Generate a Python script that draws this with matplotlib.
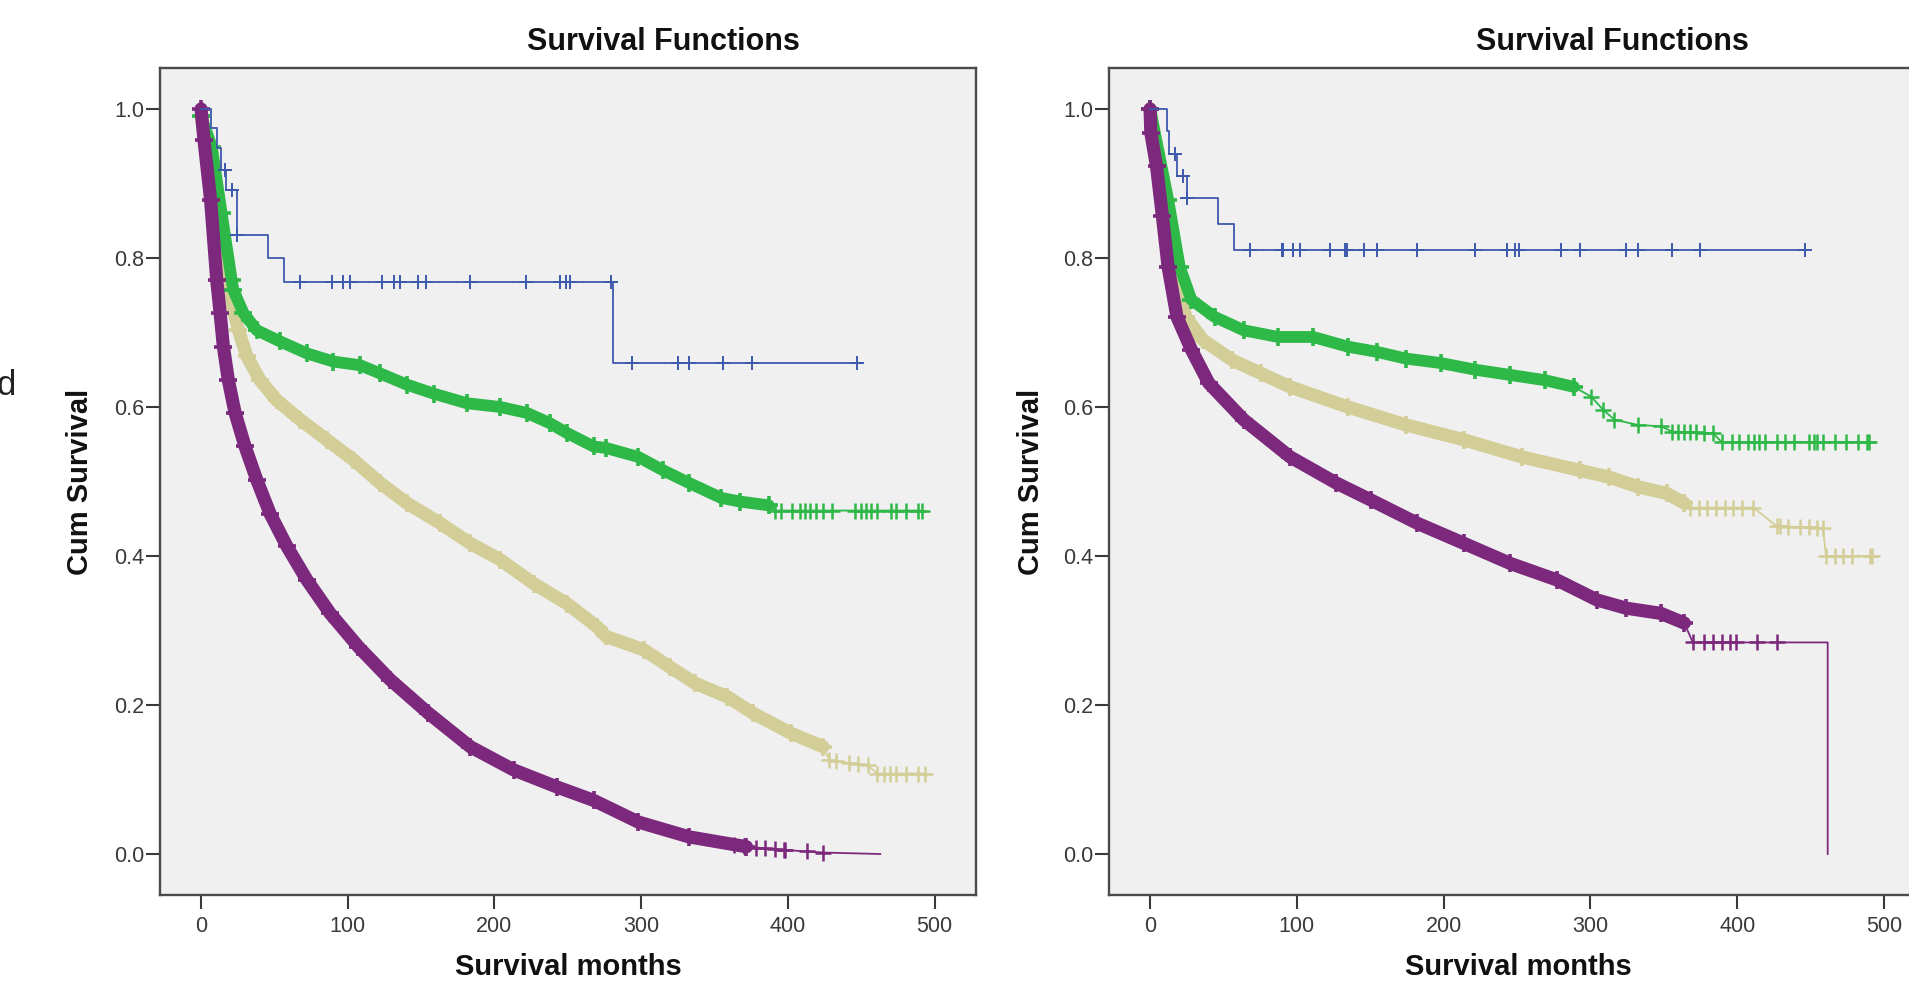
import numpy as np
import matplotlib.pyplot as plt

plt.rcParams['font.family'] = ['Liberation Sans', 'DejaVu Sans']

# SPSS default group colours
BLUE = '#3E58AC'
GREEN = '#2EB848'
KHAKI = '#D3CE97'
PURPLE = '#7C287D'

# ---------------- left panel ----------------
# blue group: Kaplan-Meier steps + censor times
left_blue_t = [0, 7, 10.7, 13.6, 17, 24.8, 45.9, 56.2, 281, 450]
left_blue_s = [1.0, 0.974, 0.947, 0.918, 0.891, 0.831, 0.800, 0.768, 0.659, 0.659]
left_blue_cens = [16.4, 20.9, 24.8, 67.3, 89.1, 96.5, 101.3, 123, 131.3, 135.6, 147.8,
                  153.5, 183.5, 221.8, 244.9, 249, 251.4, 279.7, 293.6, 325, 332.7,
                  355.8, 375.4, 447]

left_green_t = [0, 7.3, 14, 20.9, 22, 28.9, 38, 53.9, 72.1, 90.2, 108.5, 122.1, 140.3,
                158.5, 181.2, 204, 222.2, 238, 249.5, 267.6, 276, 298, 315, 332.7, 354.5,
                367.5, 387, 391.5, 491.5]
left_green_s = [0.99, 0.949, 0.860, 0.770, 0.757, 0.726, 0.703, 0.688, 0.672, 0.661, 0.656,
                0.645, 0.630, 0.618, 0.605, 0.600, 0.592, 0.578, 0.565, 0.547, 0.545, 0.533,
                0.515, 0.498, 0.478, 0.473, 0.468, 0.461, 0.461]
left_green_cens = [395.6, 402.5, 408.6, 412, 415.4, 419.5, 424.3, 430.4, 446, 450.2, 453.6,
                   456.7, 461.1, 470, 474, 480.6, 489]

left_khaki_t = [0, 3.9, 9.5, 15, 19.8, 25.5, 31.2, 40.2, 51.6, 67.5, 85.7, 103.9, 122.1,
                140.3, 163, 183.5, 204, 226.7, 249.5, 270, 276, 302, 319.6, 337, 358.8,
                376.2, 402.3, 424, 428.4, 454.5, 461, 493.7]
left_khaki_s = [0.99, 0.95, 0.86, 0.79, 0.748, 0.703, 0.668, 0.636, 0.609, 0.583, 0.556,
                0.529, 0.498, 0.471, 0.444, 0.417, 0.395, 0.363, 0.336, 0.305, 0.292, 0.274,
                0.251, 0.229, 0.211, 0.189, 0.162, 0.144, 0.126, 0.119, 0.108, 0.108]
left_khaki_cens = [432.8, 441.5, 448, 465.4, 469.8, 474, 480.6, 489]

left_purple_t = [0, 2, 6.5, 10.7, 13, 15.2, 18.6, 23.2, 30, 38, 47, 58.5, 72.1, 88, 107.3,
                 128.9, 155, 183.5, 213, 242.6, 267.6, 298, 332.7, 371.8, 398, 424, 463]
left_purple_s = [1.0, 0.958, 0.878, 0.770, 0.726, 0.681, 0.636, 0.592, 0.547, 0.502, 0.457,
                 0.413, 0.368, 0.323, 0.278, 0.234, 0.189, 0.144, 0.113, 0.090, 0.072,
                 0.043, 0.023, 0.0098, 0.0054, 0.002, 0.0]
left_purple_cens = [363, 370, 378.6, 384.7, 391.5, 397.7, 413.4]

# ---------------- right panel ----------------
right_blue_t = [0, 11.4, 12.9, 18.6, 25.4, 46.5, 57.2, 447]
right_blue_s = [1.0, 0.970, 0.940, 0.910, 0.880, 0.846, 0.811, 0.811]
right_blue_cens = [17, 22.7, 25.4, 68, 89.7, 90.8, 97.6, 102.2, 122.6, 132.8, 134, 146,
                   154.4, 182, 221.7, 243.3, 248.5, 251.2, 280, 292.7, 324.3, 332.2,
                   355.9, 374.7, 445.9]

right_green_t = [0, 12.3, 20.2, 28.1, 43.9, 63.7, 87.2, 111, 134.7, 154.5, 174.3, 198,
                 221.7, 245.4, 269, 288.8, 300.5, 308.8, 316.4, 332.2, 348, 355.9, 383.5,
                 389.4, 490]
right_green_s = [1.0, 0.878, 0.788, 0.744, 0.721, 0.703, 0.694, 0.694, 0.681, 0.674, 0.665,
                 0.659, 0.650, 0.643, 0.636, 0.627, 0.614, 0.596, 0.583, 0.576, 0.574,
                 0.567, 0.565, 0.553, 0.553]
right_green_cens = [359.7, 363.8, 367.8, 371.7, 377.6, 396.2, 401.2, 407.2, 411.2, 415.1,
                    419.1, 427, 432.9, 438.8, 448.7, 452.7, 454.6, 458.6, 466.5, 474.4,
                    482.3, 488.2]

right_khaki_t = [0, 16.3, 24.2, 36, 55.9, 75.6, 95.4, 134.7, 174.3, 213.8, 253.2, 292.7,
                 312.5, 332.2, 352, 364, 368, 411, 427, 458.5, 460.5, 492]
right_khaki_s = [1.0, 0.788, 0.721, 0.690, 0.663, 0.645, 0.627, 0.600, 0.576, 0.556, 0.533,
                 0.515, 0.506, 0.493, 0.484, 0.471, 0.465, 0.465, 0.440, 0.438, 0.400, 0.400]
right_khaki_cens = [373.7, 379.6, 385.5, 391.4, 397.3, 403.3, 429, 434.9, 442.8, 448.7,
                    454.6, 466.5, 472.4, 478.3, 490.2]

right_purple_t = [0, 0.5, 4.4, 8.4, 12.3, 18.3, 28.1, 40, 63.7, 95.4, 126.8, 150.6, 182,
                  213.8, 245.4, 277, 304.5, 324.3, 348, 364, 369.8, 427, 461.7, 461.7]
right_purple_s = [1.0, 0.968, 0.923, 0.856, 0.788, 0.721, 0.677, 0.632, 0.583, 0.533, 0.498,
                  0.475, 0.444, 0.417, 0.390, 0.368, 0.341, 0.330, 0.323, 0.310, 0.284,
                  0.284, 0.284, 0.0]
right_purple_cens = [377.6, 383.5, 389.4, 395.4, 399.3, 413.2]

TICKS_X = [0, 100, 200, 300, 400, 500]
TICKS_Y = [0.0, 0.2, 0.4, 0.6, 0.8, 1.0]

W, H = 1909, 983
fig = plt.figure(figsize=(W / 100, H / 100), dpi=100)


def dense_curve(ax, t, s, cens, color, band_end, band_lw, z, mark_end=True):
    t = np.asarray(t)
    s = np.asarray(s)
    ax.plot(t, s, color=color, lw=1.3, zorder=z)
    inband = t <= band_end
    ax.plot(t[inband], s[inband], color=color, lw=band_lw, solid_capstyle='round',
            solid_joinstyle='round', zorder=z)
    ax.plot(t[inband], s[inband], ls='none', marker='+', ms=13, mew=2.6, color=color, zorder=z)
    tail = ~inband
    if not mark_end:
        tail &= t != t[-1]
    ax.plot(t[tail], s[tail], ls='none', marker='+', ms=11, mew=1.8, color=color, zorder=z)
    cy = np.interp(cens, t, s)
    ax.plot(cens, cy, ls='none', marker='+', ms=11, mew=1.8, color=color, zorder=z)


def blue_curve(ax, t, s, cens, z):
    ax.step(t, s, where='post', color=BLUE, lw=1.3, zorder=z)
    idx = np.searchsorted(t, cens, side='right') - 1
    cy = np.asarray(s)[idx]
    ax.plot(cens, cy, ls='none', marker='+', ms=10, mew=1.4, color=BLUE, zorder=z)


def style_axes(ax):
    ax.set_facecolor('#F0F0F0')
    ax.set_xlim(-28, 528)
    ax.set_ylim(-0.055, 1.055)
    ax.set_xticks(TICKS_X)
    ax.set_yticks(TICKS_Y)
    ax.set_yticklabels([f'{v:.1f}' for v in TICKS_Y])
    for sp in ax.spines.values():
        sp.set_color('#4a4a4a')
        sp.set_linewidth(1.7)
    ax.tick_params(axis='x', direction='out', length=10, width=1.5, colors='#3a3a3a',
                   labelsize=15.5, pad=5, top=False)
    ax.tick_params(axis='y', direction='out', length=10, width=1.5, colors='#3a3a3a',
                   labelsize=15.5, pad=1.5, right=False)


# left panel
ax1 = fig.add_axes([160 / W, 1 - 895 / H, 815.6 / W, 827 / H])
style_axes(ax1)
dense_curve(ax1, left_khaki_t, left_khaki_s, left_khaki_cens, KHAKI, 425, 9.5, 2)
dense_curve(ax1, left_green_t, left_green_s, left_green_cens, GREEN, 390, 8.5, 3)
dense_curve(ax1, left_purple_t, left_purple_s, left_purple_cens, PURPLE, 372, 9.5, 4,
            mark_end=False)
blue_curve(ax1, left_blue_t, left_blue_s, left_blue_cens, 5)

# right panel (runs past the right edge of the picture, as in the reference)
ax2 = fig.add_axes([1109 / W, 1 - 895 / H, 816 / W, 827 / H])
style_axes(ax2)
dense_curve(ax2, right_khaki_t, right_khaki_s, right_khaki_cens, KHAKI, 365, 9.5, 2)
dense_curve(ax2, right_green_t, right_green_s, right_green_cens, GREEN, 300, 8.5, 3)
dense_curve(ax2, right_purple_t, right_purple_s, right_purple_cens, PURPLE, 365, 9.5, 4,
            mark_end=False)
blue_curve(ax2, right_blue_t, right_blue_s, right_blue_cens, 5)

# titles and axis labels
for cx in (663, 1612):
    fig.text(cx / W, 1 - 42 / H, 'Survival Functions', ha='center', va='center',
             fontsize=22, fontweight='bold', color='#111111')
for cx in (80, 1031):
    fig.text(cx / W, 1 - 482 / H, 'Cum Survival', ha='center', va='center', rotation=90,
             fontsize=21, fontweight='bold', color='#111111')
for cx in (568, 1518):
    fig.text(cx / W, 1 - 967 / H, 'Survival months', ha='center', va='center',
             fontsize=21, fontweight='bold', color='#111111')

# panel letter, partly cut off at the left edge
fig.text(-3 / W, 1 - 395 / H, 'd', ha='left', va='baseline', fontsize=25, color='#222222')

fig.savefig('out.png', dpi=100)
